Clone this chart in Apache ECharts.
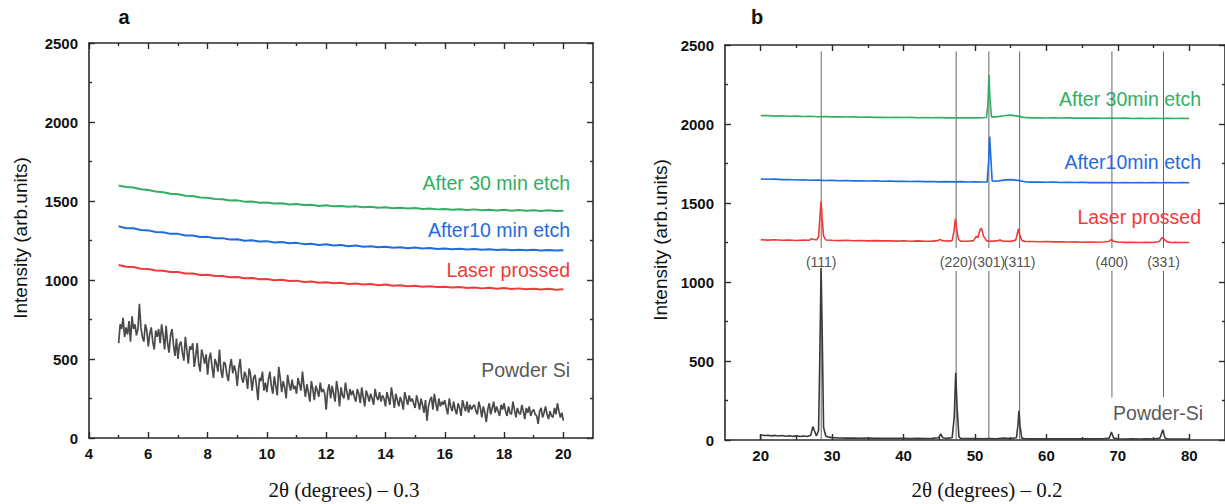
<!DOCTYPE html>
<html><head><meta charset="utf-8">
<script src="https://cdn.jsdelivr.net/npm/echarts@6/dist/echarts.min.js"></script>
<style>html,body{margin:0;padding:0;background:#fff}#c{width:1225px;height:504px}</style>
</head><body><div id="c"></div>
<script>
// ---------- Panel a data ----------
const aLineStart = 5, aLineStep = 0.25;       // x sampling of the three coloured curves
const aPowderStart = 5, aPowderStep = 0.05;   // x sampling of the powder curve
const aGreen = [1598,1588,1585,1574,1569,1560,1556,1546,1543,1533,1531,1522,1520,1512,1511,1503,1504,1496,1497,1489,1491,1484,1486,1478,1481,1474,1476,1469,1473,1466,1469,1463,1466,1460,1463,1457,1460,1454,1457,1452,1455,1449,1452,1447,1450,1445,1448,1443,1447,1442,1445,1440,1444,1439,1443,1438,1442,1437,1441,1436,1439];
const aBlue = [1340,1328,1327,1316,1314,1304,1302,1292,1292,1282,1282,1272,1273,1264,1265,1256,1258,1249,1251,1243,1246,1238,1240,1232,1235,1227,1230,1222,1226,1218,1222,1214,1218,1210,1214,1207,1211,1204,1208,1201,1205,1199,1202,1196,1200,1194,1198,1193,1196,1191,1195,1190,1193,1189,1192,1188,1191,1187,1190,1186,1189];
const aRed = [1095,1084,1082,1071,1070,1060,1059,1050,1050,1041,1041,1032,1033,1025,1026,1018,1019,1011,1013,1005,1007,999,1001,993,996,988,991,983,986,979,982,975,978,971,974,967,971,964,967,961,964,958,961,955,958,952,955,950,953,947,951,945,949,943,947,942,945,940,944,939,942];
const aPowder = [
 600,720,690,760,640,700,655,740,610,770,690,720,650,690,850,700,640,610,720,680,
 580,660,700,610,560,680,640,690,600,720,650,560,710,600,540,650,690,590,520,630,
 500,590,610,540,490,640,560,470,580,560,600,450,520,600,470,420,560,520,470,530,
 400,500,540,450,380,500,470,420,560,430,380,480,470,400,360,450,500,410,460,420,
 330,440,500,380,350,420,390,310,440,400,300,380,400,330,240,380,360,420,300,350,
 290,370,420,330,280,390,330,270,450,380,290,360,320,250,400,340,300,370,310,330,
 280,380,340,300,420,330,260,340,290,230,360,310,240,330,300,260,350,290,310,280,
 180,300,340,250,330,280,230,360,300,200,320,270,250,350,290,240,310,270,300,260,
 230,310,280,220,320,260,200,300,270,230,280,250,210,310,260,240,290,230,270,250,
 200,290,250,210,320,260,190,280,240,200,260,230,180,290,250,210,270,230,250,220,
 190,270,230,180,250,210,160,240,110,200,240,260,180,280,220,170,250,200,230,210,
 240,190,150,250,200,170,230,180,150,220,190,140,240,200,170,230,160,210,180,200,
 210,170,150,230,190,130,200,160,100,180,220,150,190,230,160,200,170,140,210,180,
 220,170,140,200,160,150,230,180,130,190,160,150,210,170,120,190,160,200,140,170,
 180,150,140,90,170,190,130,160,200,150,120,170,140,130,190,150,220,170,130,160,
 110];
const aXTicks = [4,6,8,10,12,14,16,18,20];
const aXMinor = [5,7,9,11,13,15,17,19];
const yTicks = [0,500,1000,1500,2000,2500];
const yMinor = [250,750,1250,1750,2250];

// ---------- Panel b data ----------
const bGreen = [[20,2053],[21,2054],[22,2050],[23,2052],[24,2049],[25,2050],[26,2047],[27,2049],[28,2046],[29,2047],[30,2045],[31,2046],[32,2044],[33,2045],[34,2043],[35,2044],[36,2042],[37,2043],[38,2041],[39,2042],[40,2041],[41,2042],[42,2040],[43,2041],[44,2040],[45,2041],[46,2039],[47,2040],[48,2039],[49,2040],[50,2039],[51,2040],[51.6,2041],[51.8,2120],[51.95,2310],[52.1,2160],[52.3,2045],[53,2045],[54,2052],[55,2056],[56,2050],[56.8,2042],[58,2039],[59,2040],[60,2038],[61,2039],[62,2038],[63,2039],[64,2037],[65,2038],[66,2037],[67,2038],[68,2036],[69,2037],[70,2036],[71,2037],[72,2035],[73,2036],[74,2035],[75,2036],[76,2035],[77,2036],[78,2035],[79,2036],[80,2035]];
const bBlue = [[20,1652],[21,1650],[22,1651],[23,1648],[24,1649],[25,1646],[26,1647],[27,1644],[28,1645],[29,1642],[30,1643],[31,1641],[32,1642],[33,1640],[34,1641],[35,1639],[36,1640],[37,1638],[38,1639],[39,1637],[40,1638],[41,1636],[42,1637],[43,1635],[44,1636],[45,1634],[46,1635],[47,1634],[48,1635],[49,1633],[50,1634],[51,1633],[51.7,1634],[51.9,1760],[52.05,1920],[52.2,1800],[52.4,1640],[53,1638],[54,1645],[55,1648],[56,1643],[57,1634],[58,1632],[59,1633],[60,1631],[61,1632],[62,1630],[63,1631],[64,1630],[65,1631],[66,1629],[67,1630],[68,1629],[69,1630],[70,1628],[71,1629],[72,1628],[73,1629],[74,1628],[75,1629],[76,1628],[77,1629],[78,1628],[79,1629],[80,1628]];
const bRed = [[20,1268],[21,1265],[22,1267],[23,1264],[24,1266],[25,1263],[26,1265],[26.8,1264],[27.1,1274],[27.4,1270],[27.8,1266],[28.1,1285],[28.3,1420],[28.45,1510],[28.6,1400],[28.8,1290],[29.1,1266],[30,1264],[31,1262],[32,1264],[33,1261],[34,1263],[35,1260],[36,1262],[37,1260],[38,1261],[39,1259],[40,1261],[41,1258],[42,1260],[43,1258],[44,1259],[44.8,1262],[45.1,1270],[45.4,1262],[46,1259],[46.8,1262],[47.05,1320],[47.25,1400],[47.45,1330],[47.7,1268],[48,1259],[49,1258],[49.8,1262],[50.2,1290],[50.4,1280],[50.7,1330],[50.9,1340],[51.2,1290],[51.6,1262],[52,1258],[53,1260],[53.5,1265],[54,1258],[55,1257],[55.7,1265],[55.95,1310],[56.1,1337],[56.3,1290],[56.6,1262],[57,1257],[58,1256],[59,1255],[60,1256],[61,1254],[62,1255],[63,1253],[64,1254],[65,1252],[66,1253],[67,1252],[68,1253],[68.8,1258],[69.1,1270],[69.4,1257],[70,1253],[71,1251],[72,1252],[73,1250],[74,1251],[75,1250],[75.8,1256],[76.2,1282],[76.5,1270],[76.9,1254],[77.5,1250],[78,1251],[79,1250],[80,1250]];
const bPowder = [[20,0],[20,32],[20.5,28],[21,30],[21.5,26],[22,29],[22.5,25],[23,28],[23.5,24],[24,27],[24.5,24],[25,26],[25.5,22],[26,25],[26.5,22],[27,30],[27.3,85],[27.5,60],[27.8,25],[28.1,60],[28.3,600],[28.45,1090],[28.6,700],[28.8,80],[29.1,25],[29.5,18],[30,15],[31,13],[32,12],[33,13],[34,11],[35,12],[36,10],[37,11],[38,10],[39,11],[40,10],[41,9],[42,10],[43,9],[44,10],[44.9,14],[45.2,38],[45.5,14],[46,10],[46.8,14],[47.1,150],[47.3,425],[47.5,200],[47.75,20],[48,10],[49,9],[50,9],[51,8],[52,9],[53,8],[54,12],[55,9],[55.8,14],[56.0,90],[56.15,185],[56.3,90],[56.55,12],[57,8],[58,7],[59,8],[60,7],[61,7],[62,8],[63,7],[64,7],[65,8],[66,7],[67,7],[68,8],[68.8,12],[69.1,50],[69.4,12],[70,7],[71,6],[72,7],[73,6],[74,7],[75,6],[75.9,12],[76.3,65],[76.6,12],[77,6],[78,6],[79,6],[80,6]];
const hklNames = ['(111)','(220)','(301)','(311)','(400)','(331)'];
const hklPos = [28.47, 47.36, 51.94, 56.25, 69.17, 76.39];
const bXTicks = [20,30,40,50,60,70,80];
const bXMinor = [25,35,45,55,65,75];

// ---------- styling / layout ----------
const FONT = 'Liberation Sans, Arial, sans-serif';
const SERIF = 'Liberation Serif, Times New Roman, serif';
const AX = '#2b2b2b';
const GREEN = '#33ad64', BLUE = '#1f6ce0', RED = '#f03a3a', POWDER = '#4a4a4a', GRAYTXT = '#5a5a5a';
const hklLabelY = 1127, refTop = 2460, gapTop = 1215, gapBottom = 1070, shortBottom = 270;

function xAxes(grid, min, max, major, minor) {
  const base = {type:'value', gridIndex:grid, min:min, max:max, splitLine:{show:false}};
  const line = {show:true, onZero:false, lineStyle:{color:AX, width:1.6}};
  const tickMaj = {show:true, inside:true, length:6, customValues:major, lineStyle:{color:AX, width:1.4}};
  const tickMin = {show:true, inside:true, length:3, customValues:minor, lineStyle:{color:AX, width:1.4}};
  return [
    Object.assign({}, base, {position:'bottom', axisLine:line, axisTick:tickMaj,
      axisLabel:{show:true, customValues:major, margin:8, fontFamily:FONT, fontWeight:'bold', fontSize:15, color:'#111',
        formatter:(v) => String(v)}}),
    Object.assign({}, base, {position:'bottom', axisLine:{show:false, onZero:false}, axisTick:tickMin, axisLabel:{show:false}}),
    Object.assign({}, base, {position:'top', axisLine:line, axisTick:tickMaj, axisLabel:{show:false}}),
    Object.assign({}, base, {position:'top', axisLine:{show:false, onZero:false}, axisTick:tickMin, axisLabel:{show:false}})
  ];
}
function yAxes(grid) {
  const base = {type:'value', gridIndex:grid, min:0, max:2500, splitLine:{show:false}};
  const line = {show:true, onZero:false, lineStyle:{color:AX, width:1.6}};
  const tickMaj = {show:true, inside:true, length:6, customValues:yTicks, lineStyle:{color:AX, width:1.4}};
  const tickMin = {show:true, inside:true, length:3, customValues:yMinor, lineStyle:{color:AX, width:1.4}};
  return [
    Object.assign({}, base, {position:'left', axisLine:line, axisTick:tickMaj,
      axisLabel:{show:true, customValues:yTicks, margin:11, fontFamily:FONT, fontWeight:'bold', fontSize:15, color:'#111',
        formatter:(v) => String(v)}}),
    Object.assign({}, base, {position:'left', axisLine:{show:false, onZero:false}, axisTick:tickMin, axisLabel:{show:false}}),
    Object.assign({}, base, {position:'right', axisLine:line, axisTick:tickMaj, axisLabel:{show:false}}),
    Object.assign({}, base, {position:'right', axisLine:{show:false, onZero:false}, axisTick:tickMin, axisLabel:{show:false}})
  ];
}

function evenPairs(start, step, vals) {
  return vals.map((v, i) => [+(start + i * step).toFixed(3), v]);
}
function lineSeries(xi, yi, data, color, width, z) {
  return {type:'line', xAxisIndex:xi, yAxisIndex:yi, data:data, showSymbol:false, symbol:'none',
    lineStyle:{color:color, width:width}, itemStyle:{color:color}, animation:false, silent:true, z:z || 3};
}

const series = [
  lineSeries(0, 0, evenPairs(aPowderStart, aPowderStep, aPowder), POWDER, 1.7),
  lineSeries(0, 0, evenPairs(aLineStart, aLineStep, aRed), RED, 2),
  lineSeries(0, 0, evenPairs(aLineStart, aLineStep, aBlue), BLUE, 2),
  lineSeries(0, 0, evenPairs(aLineStart, aLineStep, aGreen), GREEN, 2)
];
// reference lines for panel b
hklPos.forEach((p, i) => {
  const low = (i >= 4) ? shortBottom : 0;
  series.push(lineSeries(4, 4, [[p, refTop], [p, gapTop]], '#666', 1, 1));
  series.push(lineSeries(4, 4, [[p, gapBottom], [p, low]], '#666', 1, 1));
});
series.push(lineSeries(4, 4, bPowder, '#3a3a3a', 1.6));
series.push(lineSeries(4, 4, bRed, RED, 1.6));
series.push(lineSeries(4, 4, bBlue, BLUE, 1.6));
series.push(lineSeries(4, 4, bGreen, GREEN, 1.6));
series.push({type:'scatter', xAxisIndex:4, yAxisIndex:4, symbolSize:0, silent:true, animation:false,
  data: hklPos.map(p => [p, hklLabelY]),
  label:{show:true, position:'inside', formatter: (prm) => hklNames[prm.dataIndex],
    fontFamily:FONT, fontSize:14, color:'#222'}});

function txt(text, x, y, opts) {
  return {type:'text', x:x, y:y, silent:true, rotation: opts.rot || 0,
    style:{text:text, font: opts.font, fill: opts.fill || '#111',
      textAlign: opts.align || 'center', textVerticalAlign:'middle'}};
}

const graphic = [
  txt('a', 124, 17, {font:'bold 20px ' + FONT}),
  txt('b', 757, 17, {font:'bold 20px ' + FONT}),
  txt('Intensity (arb.units)', 20, 238, {font:'19px ' + FONT, rot:Math.PI/2}),
  txt('Intensity (arb.units)', 660, 240, {font:'19px ' + FONT, rot:Math.PI/2}),
  txt('2θ (degrees) – 0.3', 344, 490, {font:'21px ' + SERIF}),
  txt('2θ (degrees) – 0.2', 987, 490, {font:'21px ' + SERIF}),
  txt('After 30 min etch', 570, 183, {font:'19.5px ' + FONT, fill:GREEN, align:'right'}),
  txt('After10 min etch', 570, 230, {font:'19.5px ' + FONT, fill:BLUE, align:'right'}),
  txt('Laser prossed', 570, 270, {font:'19.5px ' + FONT, fill:RED, align:'right'}),
  txt('Powder Si', 570, 370, {font:'19.5px ' + FONT, fill:GRAYTXT, align:'right'}),
  txt('After 30min etch', 1201, 99, {font:'19.5px ' + FONT, fill:GREEN, align:'right'}),
  txt('After10min etch', 1201, 162, {font:'19.5px ' + FONT, fill:BLUE, align:'right'}),
  txt('Laser prossed', 1201, 217, {font:'19.5px ' + FONT, fill:RED, align:'right'}),
  txt('Powder-Si', 1203, 413, {font:'19.5px ' + FONT, fill:GRAYTXT, align:'right'})
];

const chart = echarts.init(document.getElementById('c'), null, {renderer:'svg', width:1225, height:504});
chart.setOption({
  animation:false,
  backgroundColor:'#fff',
  grid:[{left:89, top:43, width:504, height:395}, {left:725, top:45, width:504, height:395}],
  xAxis: xAxes(0, 4, 21, aXTicks, aXMinor).concat(xAxes(1, 15, 85, bXTicks, bXMinor)),
  yAxis: yAxes(0).concat(yAxes(1)),
  series: series,
  graphic: graphic
});
</script></body></html>
